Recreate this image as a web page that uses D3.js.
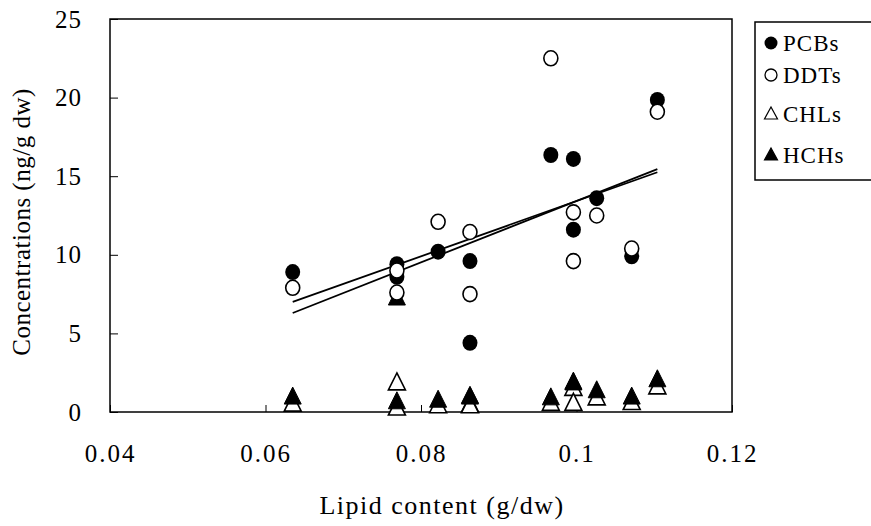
<!DOCTYPE html>
<html>
<head>
<meta charset="utf-8">
<script src="https://cdn.jsdelivr.net/npm/d3@7"></script>
<style>
  body { margin: 0; background: #fff; }
  svg text { font-family: "Liberation Serif", "DejaVu Serif", serif !important; fill: #000; }
</style>
</head>
<body>
<svg id="chart" width="871" height="526"></svg>
<script>
// samples (lipid content, g/dw) and concentrations (ng/g dw)
var lipid = [0.0635, 0.0769, 0.0769, 0.0822, 0.0863, 0.0863, 0.0967, 0.0996, 0.0996, 0.1026, 0.1071, 0.1104];
var pcbs  = [8.9, 9.4, 8.6, 10.2, 9.6, 4.4, 16.35, 16.1, 11.6, 13.6, 9.9, 19.85];
var ddts  = [7.9, 9.0, 7.6, 12.1, 11.45, 7.5, 22.5, 12.7, 9.6, 12.5, 10.4, 19.1];
var chls  = [0.5, 1.85, 0.25, 0.4, 0.45, 0.4, 0.55, 1.5, 0.55, 0.9, 0.6, 1.6];
var hchs  = [0.95, 7.25, 0.65, 0.75, 1.0, 0.95, 0.9, 1.9, 1.85, 1.35, 0.95, 2.05];

// regression lines, endpoints
var fitA = [[0.0635, 7.0], [0.1104, 15.25]];
var fitB = [[0.0635, 6.3], [0.1104, 15.45]];

var xTicks = [0.04, 0.06, 0.08, 0.1, 0.12];
var yTicks = [0, 5, 10, 15, 20, 25];
var legendNames = ['PCBs', 'DDTs', 'CHLs', 'HCHs'];

var serif = '"Liberation Serif", "DejaVu Serif", serif';

var svg = d3.select('#chart'),
    margin = {top: 19, right: 139, bottom: 114, left: 110},
    width = 871 - margin.left - margin.right,
    height = 526 - margin.top - margin.bottom,
    g = svg.append('g').attr('transform', 'translate(' + margin.left + ',' + margin.top + ')');

var x = d3.scaleLinear().domain([0.04, 0.12]).range([0, width]);
var y = d3.scaleLinear().domain([0, 25]).range([height, 0]);

function pts(vals) {
  return vals.map(function (v, i) { return {x: lipid[i], y: v}; });
}

// frame
g.append('rect')
    .attr('width', width)
    .attr('height', height)
    .attr('fill', 'none')
    .attr('stroke', '#000')
    .attr('stroke-width', 1.5);

// y axis, ticks inside
g.append('g')
    .attr('class', 'y axis')
    .attr('font-family', serif)
    .call(d3.axisLeft(y).tickValues(yTicks).tickSize(-8).tickPadding(28).tickFormat(d3.format('d')))
    .call(function (a) {
      a.select('.domain').remove();
      a.selectAll('line').attr('stroke', '#000').attr('stroke-width', 1);
      a.selectAll('text').style('font-family', serif).style('font-size', '25px').attr('letter-spacing', '1px');
    });

// x axis, ticks inside
g.append('g')
    .attr('class', 'x axis')
    .attr('font-family', serif)
    .attr('transform', 'translate(0,' + height + ')')
    .call(d3.axisBottom(x).tickValues(xTicks).tickSize(-7).tickPadding(32).tickFormat(function (d) { return String(+d.toFixed(2)); }))
    .call(function (a) {
      a.select('.domain').remove();
      a.selectAll('line').attr('stroke', '#000').attr('stroke-width', 1);
      a.selectAll('text').style('font-family', serif).style('font-size', '25px').attr('letter-spacing', '2px');
    });

// axis titles
svg.append('text')
    .attr('transform', 'rotate(-90)')
    .attr('x', -222)
    .attr('y', 30)
    .style('text-anchor', 'middle')
    .style('font-family', serif)
    .style('font-size', '25px')
    .attr('letter-spacing', '0.5px')
    .text('Concentrations (ng/g dw)');

svg.append('text')
    .attr('x', 442)
    .attr('y', 514)
    .style('text-anchor', 'middle')
    .style('font-family', serif)
    .style('font-size', '26px')
    .attr('letter-spacing', '1.5px')
    .text('Lipid content (g/dw)');

// regression lines
var line = d3.line()
    .x(function (d) { return x(d[0]); })
    .y(function (d) { return y(d[1]); });

[fitA, fitB].forEach(function (f) {
  g.append('path')
      .attr('d', line(f))
      .attr('fill', 'none')
      .attr('stroke', '#000')
      .attr('stroke-width', 1.8);
});

var tri = 'M0,-10L8.5,7L-8.5,7Z';

// CHLs (open triangles) under HCHs
g.selectAll('.chl')
    .data(pts(chls))
  .enter().append('path')
    .attr('class', 'chl')
    .attr('d', tri)
    .attr('transform', function (d) { return 'translate(' + x(d.x) + ',' + y(d.y) + ')'; })
    .attr('fill', '#fff')
    .attr('stroke', '#000')
    .attr('stroke-width', 1.6);

g.selectAll('.hch')
    .data(pts(hchs))
  .enter().append('path')
    .attr('class', 'hch')
    .attr('d', tri)
    .attr('transform', function (d) { return 'translate(' + x(d.x) + ',' + y(d.y) + ')'; })
    .attr('fill', '#000')
    .attr('stroke', '#000')
    .attr('stroke-width', 1);

// PCBs filled, DDTs open on top
g.selectAll('.pcb')
    .data(pts(pcbs))
  .enter().append('ellipse')
    .attr('class', 'pcb')
    .attr('cx', function (d) { return x(d.x); })
    .attr('cy', function (d) { return y(d.y); })
    .attr('rx', 7.5)
    .attr('ry', 8)
    .attr('fill', '#000');

g.selectAll('.ddt')
    .data(pts(ddts))
  .enter().append('ellipse')
    .attr('class', 'ddt')
    .attr('cx', function (d) { return x(d.x); })
    .attr('cy', function (d) { return y(d.y); })
    .attr('rx', 7)
    .attr('ry', 7.5)
    .attr('fill', '#fff')
    .attr('stroke', '#000')
    .attr('stroke-width', 1.6);

// legend
var lg = svg.append('g').attr('transform', 'translate(755,22)');
lg.append('rect')
    .attr('width', 130)
    .attr('height', 158)
    .attr('fill', '#fff')
    .attr('stroke', '#000')
    .attr('stroke-width', 1.5);

var rowY = [21, 53, 92, 133];
legendNames.forEach(function (name, i) {
  var row = lg.append('g').attr('transform', 'translate(16,' + rowY[i] + ')');
  if (i < 2) {
    row.append('circle')
        .attr('r', i === 0 ? 6.5 : 6)
        .attr('fill', i === 0 ? '#000' : '#fff')
        .attr('stroke', '#000')
        .attr('stroke-width', i === 0 ? 0 : 1.3);
  } else {
    row.append('path')
        .attr('d', 'M0,-7L6.5,5L-6.5,5Z')
        .attr('fill', i === 3 ? '#000' : '#fff')
        .attr('stroke', '#000')
        .attr('stroke-width', 1.2);
  }
  row.append('text')
      .attr('x', 12)
      .attr('y', 8)
      .style('font-family', serif)
      .style('font-size', '23px')
      .attr('letter-spacing', '1px')
      .text(name);
});
</script>
</body>
</html>
